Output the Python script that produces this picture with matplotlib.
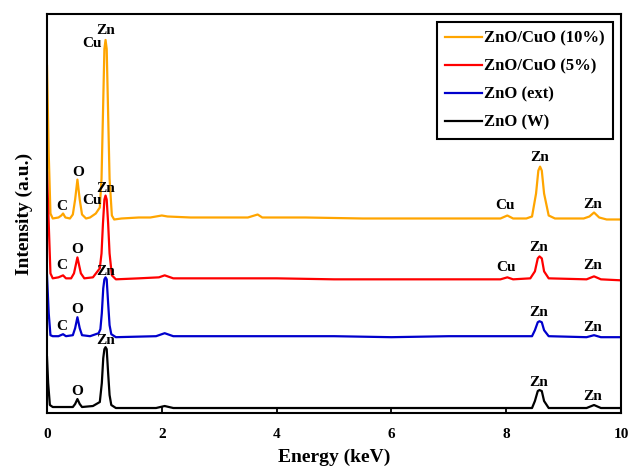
import matplotlib
matplotlib.use("Agg")
import matplotlib.pyplot as plt

plt.rcParams["font.family"] = ["Liberation Serif", "DejaVu Serif"]
plt.rcParams["font.weight"] = "bold"

# EDS spectra, energy (keV) vs stacked intensity (a.u.)
e_10 = [0.0, 0.03, 0.06, 0.10, 0.20, 0.25, 0.28, 0.32, 0.40, 0.45, 0.49, 0.53, 0.57, 0.61, 0.68,
        0.75, 0.85, 0.92, 0.95, 0.975, 1.0, 1.02, 1.04, 1.065, 1.09, 1.13, 1.17, 1.3, 1.6, 1.8,
        2.0, 2.1, 2.5, 3.0, 3.5, 3.67, 3.75, 4.5, 5.5, 6.5, 7.5, 7.9, 8.02, 8.12, 8.35, 8.45,
        8.52, 8.56, 8.59, 8.62, 8.66, 8.74, 8.85, 9.35, 9.45, 9.53, 9.62, 9.75, 10.0]
i_10 = [348, 260, 200, 195, 196, 198, 200, 196, 195, 199, 214, 234, 214, 199, 195,
        196, 200, 206, 235, 300, 365, 374, 365, 300, 235, 198, 194, 195, 196, 196,
        198, 197, 196, 196, 196, 199, 196, 196, 195, 195, 195, 195, 198, 195, 195, 197,
        220, 243, 247, 243, 220, 198, 195, 195, 197, 201, 196, 194, 194]

e_5 = [0.0, 0.03, 0.06, 0.10, 0.20, 0.28, 0.33, 0.42, 0.47, 0.53, 0.59, 0.65, 0.80, 0.92,
       0.95, 0.975, 1.0, 1.02, 1.04, 1.065, 1.09, 1.13, 1.2, 1.6, 1.95, 2.05, 2.2, 3.0, 4.0,
       5.0, 6.0, 7.0, 7.9, 8.02, 8.12, 8.42, 8.5, 8.55, 8.58, 8.62, 8.66, 8.74, 9.4, 9.53,
       9.65, 10.0]
i_5 = [241, 190, 140, 135, 136, 138, 135, 135, 140, 156, 140, 135, 136, 145,
       160, 190, 214, 218, 214, 190, 160, 138, 134, 135, 136, 138, 135, 135, 135,
       134, 134, 134, 134, 136, 134, 135, 142, 155, 157, 155, 142, 135, 134, 137,
       134, 133]

e_ext = [0.0, 0.03, 0.06, 0.10, 0.20, 0.28, 0.33, 0.45, 0.49, 0.53, 0.57, 0.61, 0.75, 0.90,
         0.93, 0.955, 0.98, 1.0, 1.02, 1.04, 1.065, 1.09, 1.12, 1.2, 1.9, 2.05, 2.2, 3.0, 4.0,
         5.0, 6.0, 7.0, 8.0, 8.45, 8.5, 8.55, 8.58, 8.62, 8.66, 8.74, 9.4, 9.53, 9.65, 10.0]
i_ext = [138, 100, 78, 77, 77, 79, 77, 78, 85, 96, 85, 78, 77, 80,
         84, 100, 125, 134, 136, 134, 110, 88, 79, 76, 77, 80, 77, 77, 77,
         77, 76, 77, 77, 77, 83, 91, 92, 91, 83, 77, 76, 78, 76, 76]

e_w = [0.0, 0.02, 0.05, 0.10, 0.30, 0.45, 0.49, 0.53, 0.57, 0.61, 0.80, 0.92, 0.955, 0.98,
       1.0, 1.02, 1.04, 1.065, 1.09, 1.12, 1.2, 1.9, 2.05, 2.2, 3.0, 4.0, 5.0, 6.0, 7.0, 8.0,
       8.45, 8.5, 8.55, 8.58, 8.62, 8.66, 8.74, 9.4, 9.53, 9.65, 10.0]
i_w = [56, 30, 8, 6, 6, 6, 9, 14, 9, 6, 7, 11, 30, 55,
       64, 66, 64, 40, 18, 8, 5, 5, 7, 5, 5, 5, 5, 5, 5, 5,
       5, 12, 22, 23, 22, 12, 5, 5, 8, 5, 5]

# peak labels: (text, energy, intensity)
peak_labels = [
    ("Zn", 1.03, 383), ("Cu", 0.78, 370), ("O", 0.54, 241), ("C", 0.26, 207), ("Cu", 0.78, 213),
    ("Cu", 7.98, 208), ("Zn", 8.59, 256), ("Zn", 9.51, 209),
    ("Zn", 1.03, 225), ("O", 0.52, 164), ("C", 0.26, 148), ("Cu", 8.0, 146), ("Zn", 8.57, 166),
    ("Zn", 9.5, 148),
    ("Zn", 1.03, 142), ("O", 0.52, 104), ("C", 0.26, 87), ("Zn", 8.57, 101), ("Zn", 9.5, 86),
    ("Zn", 1.03, 73), ("O", 0.52, 22), ("Zn", 8.56, 31), ("Zn", 9.5, 17),
]

fig = plt.figure(figsize=(6.32, 4.67), dpi=100)
ax = fig.add_axes([47 / 632, 1 - 413 / 467, 574 / 632, 399 / 467])

l_w, = ax.plot(e_w, i_w, color="black", lw=1.6)
l_ext, = ax.plot(e_ext, i_ext, color="#0000cc", lw=1.6)
l_10, = ax.plot(e_10, i_10, color="#ffa500", lw=1.6)
l_5, = ax.plot(e_5, i_5, color="#ff0000", lw=1.6)

for txt, x, y in peak_labels:
    ax.text(x, y, txt, ha="center", va="center", fontsize=11, fontweight="bold")

ax.set_xlim(0, 10)
ax.set_ylim(0, 400)
ax.set_xticks([0, 2, 4, 6, 8, 10])
ax.set_yticks([])
ax.tick_params(axis="x", direction="in", length=4, width=1.3, labelsize=11, pad=11)
for s in ax.spines.values():
    s.set_linewidth(1.5)

ax.set_xlabel("Energy (keV)", fontsize=14, fontweight="bold", labelpad=5)
ax.set_ylabel("Intensity (a.u.)", fontsize=14, fontweight="bold", labelpad=10)

leg = ax.legend([l_10, l_5, l_ext, l_w],
                ["ZnO/CuO (10%)", "ZnO/CuO (5%)", "ZnO (ext)", "ZnO (W)"],
                loc="upper right", bbox_to_anchor=(1.0, 1.0), fontsize=12,
                fancybox=False, edgecolor="black", framealpha=1,
                handlelength=2.2, handletextpad=0.1, labelspacing=0.72, borderpad=0.5)
leg.get_frame().set_linewidth(1.5)

fig.savefig("out.png", dpi=100)
